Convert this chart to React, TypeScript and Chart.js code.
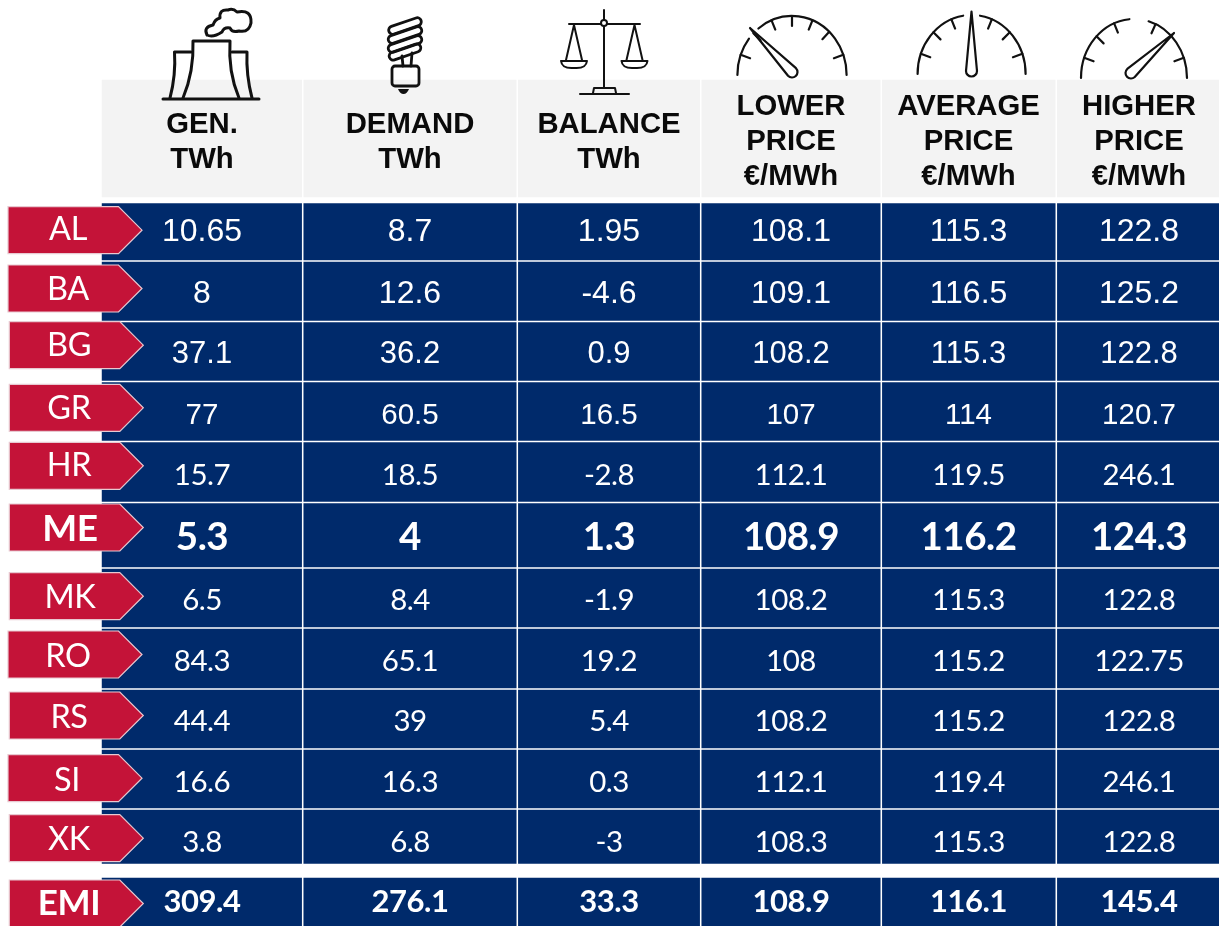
import React, { useEffect, useRef } from "react";
import { Chart, registerables } from "chart.js";

Chart.register(...registerables);

// ---------- data ----------
const countries = ["AL", "BA", "BG", "GR", "HR", "ME", "MK", "RO", "RS", "SI", "XK", "EMI"];
const generation = [10.65, 8, 37.1, 77, 15.7, 5.3, 6.5, 84.3, 44.4, 16.6, 3.8, 309.4];
const demand = [8.7, 12.6, 36.2, 60.5, 18.5, 4, 8.4, 65.1, 39, 16.3, 6.8, 276.1];
const balance = [1.95, -4.6, 0.9, 16.5, -2.8, 1.3, -1.9, 19.2, 5.4, 0.3, -3, 33.3];
const lowerPrice = [108.1, 109.1, 108.2, 107, 112.1, 108.9, 108.2, 108, 108.2, 112.1, 108.3, 108.9];
const averagePrice = [115.3, 116.5, 115.3, 114, 119.5, 116.2, 115.3, 115.2, 115.2, 119.4, 115.3, 116.1];
const higherPrice = [122.8, 125.2, 122.8, 120.7, 246.1, 124.3, 122.8, 122.75, 122.8, 246.1, 122.8, 145.4];
const columnValues = [generation, demand, balance, lowerPrice, averagePrice, higherPrice];
const headerLines = [
  ["GEN.", "TWh"],
  ["DEMAND", "TWh"],
  ["BALANCE", "TWh"],
  ["LOWER", "PRICE", "€/MWh"],
  ["AVERAGE", "PRICE", "€/MWh"],
  ["HIGHER", "PRICE", "€/MWh"],
];

// ---------- layout ----------
const W = 1219;
const H = 926;
const NAVY = "#002a6b";
const RED = "#c41338";
const colEdges = [101, 302.7, 517.3, 700.7, 881.3, 1056.3, 1222];
const colText = [202, 410, 609, 791, 968.5, 1139];
const rowTops = [202.5, 261, 321.5, 381.5, 441.5, 502.5, 568, 628, 689, 749, 809, 877];
const rowBottoms = [261, 321.5, 381.5, 441.5, 502.5, 568, 628, 689, 749, 809, 864.5, 932];
const rowTextMid = [230, 291.5, 351.5, 413, 474, 536.5, 599, 660, 720, 781, 841, 901];
const tagTops = [206.7, 265, 321.7, 384.3, 442.3, 504, 572.7, 631, 692, 754.7, 814.7, 880];
const tagLefts = [8, 8, 9.3, 9.3, 9.3, 9.3, 9.3, 8, 9.3, 8, 9.3, 9.3];
const tagTextMid = [228, 288, 344, 407, 464, 528, 596, 655, 716, 779, 838, 902];
const tagTextX = [68, 68, 69, 69, 69, 70, 70, 68, 69, 67, 69, 69];

type Style = { font: string; h: number; ls: string };
const arial = (s: number): Style => ({ font: `${s}px "Liberation Sans"`, h: s * 0.716, ls: "0px" });
const lato = (s: number): Style => ({ font: `${s}px Lato`, h: s * 0.72, ls: "-0.5px" });
const latoB = (s: number): Style => ({ font: `bold ${s}px Lato`, h: s * 0.72, ls: "-0.5px" });
const rowStyles: Style[] = [
  arial(32), arial(32), arial(31), arial(29.5), lato(29.5), latoB(38.5), lato(29.5), lato(29.5), lato(29.5), lato(29.5), lato(29.5), latoB(31),
];

function outline(ctx: CanvasRenderingContext2D, lw: number) {
  ctx.lineWidth = lw;
  ctx.strokeStyle = "#111";
  ctx.fillStyle = "#111";
  ctx.lineCap = "round";
  ctx.lineJoin = "round";
}

function line(ctx: CanvasRenderingContext2D, pts: number[][]) {
  ctx.beginPath();
  pts.forEach((p, i) => (i ? ctx.lineTo(p[0], p[1]) : ctx.moveTo(p[0], p[1])));
  ctx.stroke();
}

function factory(ctx: CanvasRenderingContext2D) {
  outline(ctx, 3);
  line(ctx, [[163, 99], [259, 99]]);
  ctx.beginPath();
  ctx.moveTo(183, 98);
  ctx.quadraticCurveTo(194, 72, 193, 41);
  ctx.lineTo(230, 41);
  ctx.quadraticCurveTo(228, 72, 239, 98);
  ctx.stroke();
  ctx.beginPath();
  ctx.moveTo(170, 98);
  ctx.quadraticCurveTo(176, 75, 174.5, 52);
  ctx.lineTo(191, 52);
  ctx.stroke();
  ctx.beginPath();
  ctx.moveTo(232, 52);
  ctx.lineTo(247, 52);
  ctx.quadraticCurveTo(246, 75, 252, 98);
  ctx.stroke();
  // smoke
  ctx.beginPath();
  ctx.moveTo(207, 35);
  ctx.quadraticCurveTo(203, 27, 213, 25);
  ctx.quadraticCurveTo(215, 19, 220, 18);
  ctx.quadraticCurveTo(219, 9, 228, 10);
  ctx.quadraticCurveTo(233, 8, 237, 12);
  ctx.quadraticCurveTo(252, 9, 251, 23);
  ctx.quadraticCurveTo(249, 33, 239, 31);
  ctx.quadraticCurveTo(232, 33, 230, 28);
  ctx.quadraticCurveTo(224, 27, 222, 32);
  ctx.quadraticCurveTo(213, 38, 207, 35);
  ctx.stroke();
}

function bulb(ctx: CanvasRenderingContext2D) {
  outline(ctx, 2.8);
  const bands = [[405, 26, 34], [405, 35, 35], [405, 44, 35], [405, 52, 33]];
  bands.forEach(([cx, cy, w]) => {
    ctx.save();
    ctx.translate(cx, cy);
    ctx.rotate(-0.33);
    ctx.beginPath();
    ctx.roundRect(-w / 2, -4, w, 8, 4);
    ctx.stroke();
    ctx.restore();
  });
  line(ctx, [[402, 56], [403, 66]]);
  line(ctx, [[412, 53], [411, 66]]);
  ctx.beginPath();
  ctx.roundRect(392, 66, 27, 20, 3);
  ctx.stroke();
  ctx.beginPath();
  ctx.moveTo(398, 89);
  ctx.lineTo(409, 89);
  ctx.quadraticCurveTo(407, 94, 403.5, 94);
  ctx.quadraticCurveTo(400, 94, 398, 89);
  ctx.closePath();
  ctx.fill();
}

function scales(ctx: CanvasRenderingContext2D) {
  outline(ctx, 2);
  line(ctx, [[604, 10], [604, 20]]);
  line(ctx, [[604, 26], [604, 88]]);
  line(ctx, [[569, 24], [601, 24]]);
  line(ctx, [[607, 24], [640, 24]]);
  ctx.beginPath();
  ctx.arc(604, 23, 3, 0, Math.PI * 2);
  ctx.stroke();
  [574, 634.5].forEach((cx) => {
    line(ctx, [[cx - 8, 60], [cx, 25], [cx + 8, 60]]);
    ctx.beginPath();
    ctx.moveTo(cx - 13, 61);
    ctx.lineTo(cx + 13, 61);
    ctx.quadraticCurveTo(cx + 12, 69, cx, 68);
    ctx.quadraticCurveTo(cx - 12, 69, cx - 13, 61);
    ctx.stroke();
  });
  line(ctx, [[580, 94], [629, 94]]);
  line(ctx, [[593, 93], [594, 88], [615, 88], [616, 93]]);
}

type Gauge = { cx: number; cy: number; rx: number; ry: number; tip: number[]; hub: number[]; hubR: number; gap: number[]; ticks: number[] };
const gauges: Gauge[] = [
  { cx: 792, cy: 75, rx: 54.6, ry: 59, tip: [750, 28], hub: [792, 72], hubR: 5.5, gap: [128, 142], ticks: [20, 68, 90, 112, 135, 160, 47] },
  { cx: 971.6, cy: 74, rx: 54, ry: 59, tip: [971.5, 11.5], hub: [971.5, 71], hubR: 5.5, gap: [81, 99], ticks: [20, 45, 68, 112, 135, 160] },
  { cx: 1134, cy: 78, rx: 53, ry: 59, tip: [1174, 33], hub: [1131, 73], hubR: 5.5, gap: [74, 95], ticks: [20, 112, 135, 160, 66] },
];

function gauge(ctx: CanvasRenderingContext2D, g: Gauge) {
  outline(ctx, 2.2);
  const rad = (d: number) => (d * Math.PI) / 180;
  ctx.beginPath();
  ctx.ellipse(g.cx, g.cy, g.rx, g.ry, 0, -rad(180), -rad(g.gap[1]));
  ctx.stroke();
  ctx.beginPath();
  ctx.ellipse(g.cx, g.cy, g.rx, g.ry, 0, -rad(g.gap[0]), 0);
  ctx.stroke();
  g.ticks.forEach((d) => {
    const c = Math.cos(rad(d));
    const s = Math.sin(rad(d));
    line(ctx, [[g.cx + g.rx * c, g.cy - g.ry * s], [g.cx + (g.rx - 10) * c, g.cy - (g.ry - 10) * s]]);
  });
  const a = Math.atan2(g.tip[1] - g.hub[1], g.tip[0] - g.hub[0]);
  const nx = Math.cos(a + Math.PI / 2) * g.hubR;
  const ny = Math.sin(a + Math.PI / 2) * g.hubR;
  ctx.beginPath();
  ctx.moveTo(g.tip[0], g.tip[1]);
  ctx.lineTo(g.hub[0] + nx, g.hub[1] + ny);
  ctx.arc(g.hub[0], g.hub[1], g.hubR, a + Math.PI / 2, a - Math.PI / 2, false);
  ctx.closePath();
  ctx.stroke();
}

const tablePlugin = {
  id: "tableText",
  afterDatasetsDraw(chart: any) {
    const ctx: CanvasRenderingContext2D = chart.ctx;
    const xs = chart.scales.x;
    const ys = chart.scales.y;
    ctx.save();

    // icons
    factory(ctx);
    bulb(ctx);
    scales(ctx);
    gauges.forEach((g) => gauge(ctx, g));

    // headers
    ctx.fillStyle = "#0a0a0a";
    ctx.font = 'bold 29.3px "Liberation Sans"';
    ctx.textAlign = "center";
    ctx.textBaseline = "alphabetic";
    headerLines.forEach((lines, c) => {
      const base = lines.length === 2 ? [133, 168] : [115, 150, 185];
      lines.forEach((t, i) => ctx.fillText(t, xs.getPixelForValue(colText[c]), ys.getPixelForValue(base[i])));
    });

    // country tags
    countries.forEach((name, r) => {
      const top = ys.getPixelForValue(tagTops[r]);
      const bot = ys.getPixelForValue(tagTops[r] + 47);
      const left = xs.getPixelForValue(tagLefts[r]);
      const sh = left + 110.5;
      const tip = left + 134;
      ctx.beginPath();
      ctx.moveTo(left, top);
      ctx.lineTo(sh, top);
      ctx.lineTo(tip, (top + bot) / 2);
      ctx.lineTo(sh, bot);
      ctx.lineTo(left, bot);
      ctx.closePath();
      ctx.fillStyle = RED;
      ctx.fill();
      ctx.lineWidth = 1.2;
      ctx.strokeStyle = "#e8c9d1";
      ctx.lineJoin = "miter";
      ctx.stroke();

      const bold = name === "ME" || name === "EMI";
      const size = name === "ME" ? 37 : name === "EMI" ? 35 : 32.5;
      ctx.font = `${bold ? "bold " : ""}${size}px Lato`;
      (ctx as any).letterSpacing = "-0.4px";
      ctx.fillStyle = "#ffffff";
      ctx.textAlign = "center";
      ctx.textBaseline = "alphabetic";
      ctx.fillText(name, xs.getPixelForValue(tagTextX[r]), ys.getPixelForValue(tagTextMid[r] + (size * 0.72) / 2));
    });

    // values
    columnValues.forEach((vals, c) => {
      vals.forEach((v, r) => {
        const st = rowStyles[r];
        ctx.font = st.font;
        (ctx as any).letterSpacing = st.ls;
        ctx.fillStyle = "#ffffff";
        ctx.fillText(String(v), xs.getPixelForValue(colText[c]), ys.getPixelForValue(rowTextMid[r] + st.h / 2));
      });
    });
    (ctx as any).letterSpacing = "0px";
    ctx.restore();
  },
};

export default function App() {
  const ref = useRef<HTMLCanvasElement | null>(null);
  useEffect(() => {
    const cells = (top: number, bottom: number) =>
      columnValues.map((_, c) => ({
        x: [colEdges[c] + 1.1, colEdges[c + 1] - 1.1],
        y: (top + bottom) / 2,
      }));
    const headerDataset = {
      label: "header",
      data: cells(80, 197),
      backgroundColor: "#f3f3f3",
      barThickness: 117,
      borderWidth: 0,
      grouped: false,
    };
    const rowDatasets = countries.map((name, r) => ({
      label: name,
      data: cells(rowTops[r], rowBottoms[r]),
      backgroundColor: NAVY,
      barThickness: rowBottoms[r] - rowTops[r] - 2.4,
      borderWidth: 0,
      grouped: false,
    }));
    const chart = new Chart(ref.current as HTMLCanvasElement, {
      type: "bar",
      data: { datasets: [headerDataset, ...rowDatasets] as any },
      plugins: [tablePlugin as any],
      options: {
        indexAxis: "y",
        animation: false,
        responsive: false,
        events: [],
        layout: { padding: 0 },
        plugins: { legend: { display: false }, tooltip: { enabled: false }, title: { display: false } },
        scales: {
          x: { type: "linear", min: 0, max: W, offset: false, display: false },
          y: { type: "linear", min: 0, max: H, reverse: true, offset: false, display: false },
        },
      } as any,
    });
    return () => chart.destroy();
  }, []);
  return (
    <div style={{ position: "fixed", left: 0, top: 0, width: W, height: H, background: "#fff", overflow: "hidden" }}>
      <canvas ref={ref} width={W} height={H} style={{ display: "block", filter: "blur(0.5px)" }} />
    </div>
  );
}
